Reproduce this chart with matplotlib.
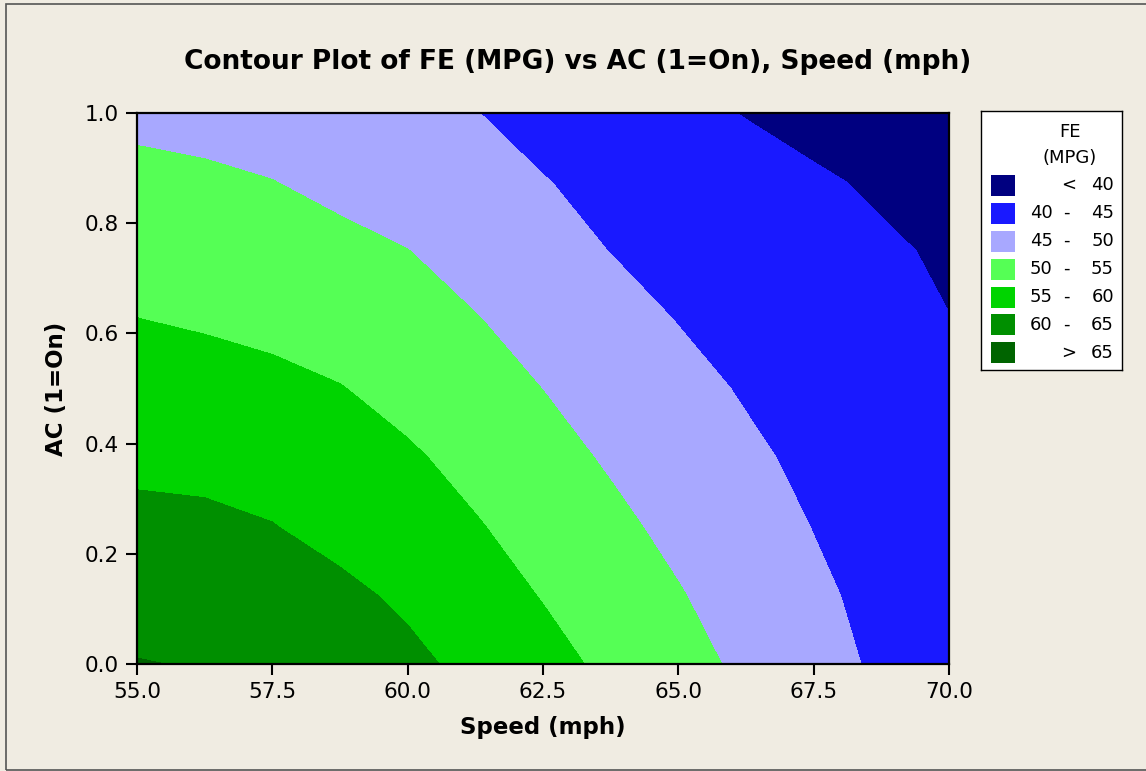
import matplotlib.pyplot as plt
from matplotlib.patches import Rectangle
import numpy as np

# Valori (FE in MPG, righe = AC, colonne = Speed)
speed = [55.0, 56.25, 57.5, 58.75, 60.0, 61.25, 62.5, 63.75, 65.0, 66.25, 67.5, 68.75, 70.0]
ac = [0.0, 0.125, 0.25, 0.375, 0.5, 0.625, 0.75, 0.875, 1.0]
fe_ac000 = [65.2, 64.72, 63.92, 62.69, 61.02, 58.83, 56.47, 54.07, 51.59, 49.11, 46.63, 44.30, 42.60]
fe_ac125 = [63.06, 62.83, 62.13, 60.96, 59.22, 57.00, 54.78, 52.53, 50.27, 48.01, 45.76, 43.84, 42.09]
fe_ac250 = [61.06, 60.82, 60.12, 58.61, 56.97, 55.32, 53.21, 50.99, 48.89, 46.88, 44.89, 43.24, 41.58]
fe_ac375 = [59.06, 58.84, 58.19, 57.11, 55.60, 53.58, 51.52, 49.50, 47.62, 45.74, 44.08, 42.58, 41.07]
fe_ac500 = [57.06, 56.89, 56.26, 55.17, 53.47, 51.71, 49.96, 48.13, 46.31, 44.62, 43.27, 41.92, 40.57]
fe_ac625 = [55.06, 54.49, 53.71, 52.74, 51.56, 50.19, 48.42, 46.61, 44.87, 43.66, 42.46, 41.26, 40.06]
fe_ac750 = [53.06, 52.68, 52.05, 51.18, 50.06, 48.36, 46.62, 44.92, 43.83, 42.74, 41.65, 40.56, 39.47]
fe_ac875 = [51.06, 50.75, 50.08, 48.87, 47.63, 46.39, 45.15, 43.99, 42.85, 41.70, 40.55, 39.41, 38.29]
fe_ac1000 = [49.06, 48.52, 47.85, 47.06, 46.14, 45.09, 43.78, 42.46, 41.14, 39.83, 38.65, 37.88, 37.10]

livelli = [40, 45, 50, 55, 60, 65]
colori = ['#000080', '#1919FF', '#A8A8FF', '#55FF55', '#00D400', '#008F00', '#006400']
xticks = [55.0, 57.5, 60.0, 62.5, 65.0, 67.5, 70.0]
yticks = [0.0, 0.2, 0.4, 0.6, 0.8, 1.0]

fe = np.array([fe_ac000, fe_ac125, fe_ac250, fe_ac375, fe_ac500,
               fe_ac625, fe_ac750, fe_ac875, fe_ac1000])

W, H = 1146, 771
bg = '#F0ECE2'
fig = plt.figure(figsize=(W / 100, H / 100), dpi=100, facecolor=bg)

# cornice esterna
fig.patches.append(Rectangle((6 / W, 1 / H), 1.2, (770 - 4) / H, transform=fig.transFigure,
                             fill=False, edgecolor='#555555', linewidth=1.2))

ax = fig.add_axes([137 / W, (H - 664) / H, 812 / W, 551 / H])
ax.set_facecolor(bg)
bordi = [fe.min() - 5] + livelli + [fe.max() + 5]
ax.contourf(speed, ac, fe, levels=bordi, colors=colori)
ax.set_xlim(55, 70)
ax.set_ylim(0, 1)
ax.set_xticks(xticks)
ax.set_yticks(yticks)
ax.set_xticklabels([f"{v:.1f}" for v in xticks])
ax.set_yticklabels([f"{v:.1f}" for v in yticks])
ax.tick_params(direction='out', length=8, width=1.5, labelsize=15.5, pad=5)
for s in ax.spines.values():
    s.set_linewidth(1.6)

ax.set_xlabel('Speed (mph)', fontsize=16.5, fontweight='bold')
ax.set_ylabel('AC (1=On)', fontsize=16.5, fontweight='bold')
ax.xaxis.set_label_coords(0.5, (664 - 716) / 551)
ax.yaxis.set_label_coords((68 - 137) / 812, 0.5)

fig.text(0.504, 1 - 62 / H, 'Contour Plot of FE (MPG) vs AC (1=On), Speed (mph)',
         fontsize=19, fontweight='bold', ha='center', va='center')

# legenda costruita a mano
lx0, ly0, lx1, ly1 = 981, 111, 1122, 370
lg = fig.add_axes([lx0 / W, (H - ly1) / H, (lx1 - lx0) / W, (ly1 - ly0) / H])
lg.set_xlim(0, lx1 - lx0)
lg.set_ylim(ly1 - ly0, 0)
lg.set_xticks([])
lg.set_yticks([])
lg.set_facecolor('white')
for s in lg.spines.values():
    s.set_linewidth(1.0)
    s.set_color('black')
lg.text(89, 21, 'FE', fontsize=13, ha='center', va='center')
lg.text(89, 47, '(MPG)', fontsize=13, ha='center', va='center')
etichette = [('', '<', str(livelli[0]))]
for a, b in zip(livelli[:-1], livelli[1:]):
    etichette.append((str(a), '-', str(b)))
etichette.append(('', '>', str(livelli[-1])))
for i, (col, (sx, sym, dx)) in enumerate(zip(colori, etichette)):
    yc = 74 + 28 * i
    lg.add_patch(Rectangle((10, yc - 10.5), 24, 21, facecolor=col, edgecolor='none'))
    if sx:
        lg.text(49, yc, sx, fontsize=13, ha='left', va='center')
        lg.text(85, yc, sym, fontsize=13, ha='center', va='center')
    else:
        lg.text(88, yc, sym, fontsize=13, ha='center', va='center')
    lg.text(133, yc, dx, fontsize=13, ha='right', va='center')

plt.savefig('out.png', dpi=100, facecolor=bg)
plt.close()
